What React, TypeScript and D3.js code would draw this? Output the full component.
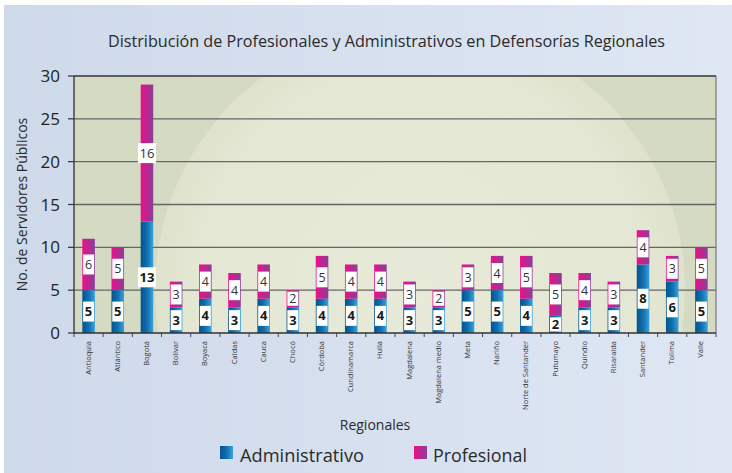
import React from "react";
import * as d3 from "d3";

const categories = ["Antioquia","Atlántico","Bogotá","Bolívar","Boyacá","Caldas","Cauca","Chocó","Córdoba","Cundinamarca","Huila","Magdalena","Magdalena medio","Meta","Nariño","Norte de Santander","Putumayo","Quindío","Risaralda","Santander","Tolima","Valle"];
const administrativo = [5,5,13,3,4,3,4,3,4,4,4,3,3,5,5,4,2,3,3,8,6,5];
const profesional = [6,5,16,3,4,4,4,2,5,4,4,3,2,3,4,5,5,4,3,4,3,5];
const yTicks = [0,5,10,15,20,25,30];
const seriesNames = ["Administrativo","Profesional"];

const W = 732, H = 473;
const m = { left: 74, right: 716, top: 76, bottom: 333 };
const FONT = "'Open Sans', 'Noto Sans', sans-serif";

export default function App() {
  const x = d3.scaleBand<string>().domain(categories).range([m.left, m.right]).paddingInner(0.57).paddingOuter(0.285);
  const y = d3.scaleLinear().domain([0, 30]).range([m.bottom, m.top]);
  const step = x.step();
  const bw = x.bandwidth();

  const stack = d3.stack<number>().keys(["a", "p"]).value((i, k) => (k === "a" ? administrativo[i] : profesional[i]));
  const series = stack(categories.map((_, i) => i) as any);

  const label = (cx: number, y0: number, y1: number, v: number, bold: boolean, key: string) => {
    const cy = (y(y0) + y(y1)) / 2;
    const txt = String(v);
    const w = txt.length > 1 ? 18 : 11;
    const h = Math.min(20, y(y0) - y(y1) - 3);
    return (
      <g key={key}>
        <rect x={cx - w / 2} y={cy - h / 2} width={w} height={h} fill="#fff" />
        <text x={cx} y={cy + 4.5} textAnchor="middle" fontSize={bold ? 13 : 12.5} fontWeight={bold ? 700 : 400} fill={bold ? "#1a1a1a" : "#333"} fontFamily={FONT} textLength={txt.length > 1 ? 15 : undefined} lengthAdjust="spacingAndGlyphs">{txt}</text>
      </g>
    );
  };

  return (
    <svg width={W} height={H} style={{ position: "absolute", left: 0, top: 0 }} fontFamily={FONT}>
      <defs>
        <linearGradient id="bg" x1="0" x2="1" y1="0" y2="0">
          <stop offset="0" stopColor="#ced9ea" />
          <stop offset="1" stopColor="#dfe7f4" />
        </linearGradient>
        <linearGradient id="gBlue" x1="0" x2="1" y1="0" y2="0">
          <stop offset="0" stopColor="#04548f" />
          <stop offset="0.5" stopColor="#0f6fb0" />
          <stop offset="1" stopColor="#3aa2dc" />
        </linearGradient>
        <linearGradient id="gPink" x1="0" x2="1" y1="0" y2="0">
          <stop offset="0" stopColor="#ec0f8a" />
          <stop offset="1" stopColor="#8a3f98" />
        </linearGradient>
        <radialGradient id="glow" cx="0.5" cy="0.5" r="0.5">
          <stop offset="0" stopColor="#e7ead8" />
          <stop offset="0.85" stopColor="#e3e7d3" />
          <stop offset="1" stopColor="#dfe3cd" />
        </radialGradient>
        <clipPath id="plotClip">
          <rect x={m.left} y={m.top} width={m.right - m.left} height={m.bottom - m.top} />
        </clipPath>
      </defs>

      <rect x={0} y={0} width={W} height={H} fill="#ffffff" />
      <rect x={4} y={5} width={W - 4} height={H - 5} fill="url(#bg)" />

      <text x={(108 + 665) / 2} y={47} textAnchor="middle" fontSize={16} fill="#2a2a2a" textLength={557} lengthAdjust="spacingAndGlyphs">
        Distribución de Profesionales y Administrativos en Defensorías Regionales
      </text>

      {/* plot background */}
      <rect x={m.left} y={m.top} width={m.right - m.left} height={m.bottom - m.top} fill="#d5dbc3" />
      <g clipPath="url(#plotClip)">
        <circle cx={420} cy={290} r={265} fill="url(#glow)" />
      </g>

      {/* gridlines */}
      {yTicks.filter(t => t > 0).map(t => (
        <line key={t} x1={m.left} x2={m.right} y1={y(t)} y2={y(t)} stroke={t === 30 ? "#333" : "#666"} strokeWidth={t === 30 ? 1.6 : 1.4} />
      ))}
      <line x1={m.right} x2={m.right} y1={m.top} y2={m.bottom} stroke="#777" strokeWidth={1.2} />

      {/* bars */}
      {series.map((s, si) => (
        <g key={si}>
          {s.map((d, i) => (
            <rect key={i} x={x(categories[i])!} y={y(d[1])} width={bw} height={y(d[0]) - y(d[1])} fill={si === 0 ? "url(#gBlue)" : "url(#gPink)"} />
          ))}
        </g>
      ))}

      {/* labels */}
      {series.map((s, si) =>
        s.map((d, i) => label(x(categories[i])! + bw / 2, d[0], d[1], si === 0 ? administrativo[i] : profesional[i], si === 0, `l${si}-${i}`))
      )}

      {/* axes */}
      <line x1={m.left} x2={m.left} y1={m.top} y2={m.bottom} stroke="#444" strokeWidth={1.5} />
      <line x1={m.left} x2={m.right} y1={m.bottom} y2={m.bottom} stroke="#333" strokeWidth={1.5} />
      {yTicks.map(t => (
        <g key={t}>
          <line x1={m.left - 6} x2={m.left} y1={y(t)} y2={y(t)} stroke="#333" strokeWidth={1.2} />
          <text x={m.left - 14} y={y(t) + 6} textAnchor="end" fontSize={17} fill="#222">{t}</text>
        </g>
      ))}
      {d3.range(categories.length + 1).map(i => (
        <line key={i} x1={m.left + i * step} x2={m.left + i * step} y1={m.bottom} y2={m.bottom + 4} stroke="#444" strokeWidth={1} />
      ))}
      {categories.map(c => {
        const cx = x(c)! + bw / 2 + 2;
        return (
          <text key={c} transform={`translate(${cx},${m.bottom + 8}) rotate(-90)`} textAnchor="end" fontSize={7.5} fill="#333">{c}</text>
        );
      })}

      <text transform={`translate(27,${(m.top + m.bottom) / 2}) rotate(-90)`} textAnchor="middle" fontSize={14} fill="#2a2a2a">No. de Servidores Públicos</text>
      <text x={375} y={430} textAnchor="middle" fontSize={14} fill="#2a2a2a">Regionales</text>

      {/* legend */}
      <rect x={220} y={446} width={13} height={13} fill="url(#gBlue)" />
      <text x={240} y={462} fontSize={19} fill="#2a2a2a" textLength={124} lengthAdjust="spacingAndGlyphs">{seriesNames[0]}</text>
      <rect x={414} y={446} width={13} height={13} fill="url(#gPink)" />
      <text x={433} y={462} fontSize={19} fill="#2a2a2a" textLength={94} lengthAdjust="spacingAndGlyphs">{seriesNames[1]}</text>
    </svg>
  );
}
